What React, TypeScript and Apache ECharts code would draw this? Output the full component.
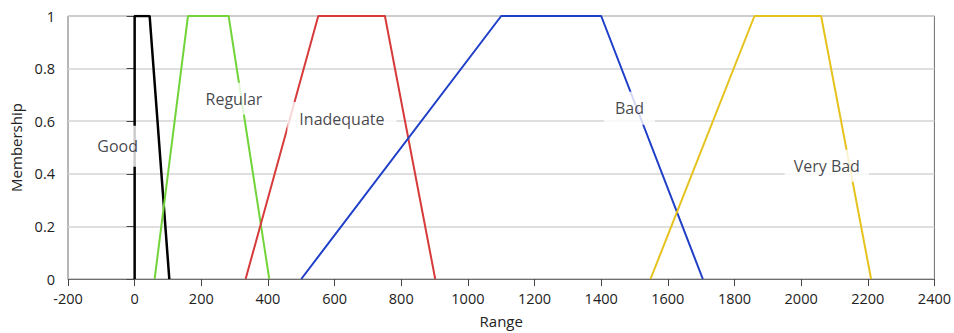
import React, { useEffect, useRef } from "react";
import * as echarts from "echarts";

// Membership functions: [x, membership]
const goodPts: [number, number][] = [[0, 0], [0, 1], [45, 1], [104, 0]];
const regularPts: [number, number][] = [[60, 0], [160, 1], [282, 1], [404, 0]];
const inadequatePts: [number, number][] = [[333, 0], [551, 1], [751, 1], [902, 0]];
const badPts: [number, number][] = [[500, 0], [1100, 1], [1400, 1], [1705, 0]];
const veryBadPts: [number, number][] = [[1548, 0], [1860, 1], [2060, 1], [2210, 0]];

const seriesNames = ["Good", "Regular", "Inadequate", "Bad", "Very Bad"];
const seriesColors = ["#000000", "#72d43a", "#d63a3a", "#1f3fc8", "#e6c21e"];
const seriesWidths = [2.5, 2, 2, 2, 2];

// Label anchor positions (data coords)
const labelTexts = ["Good", "Regular", "Inadequate", "Bad", "Very Bad"];
const labelX = [-51, 298, 622, 1485, 2077];
const labelY = [0.505, 0.685, 0.61, 0.649, 0.431];

const xMin = -200;
const xMax = 2400;
const xStep = 200;
const yMin = 0;
const yMax = 1;
const yStep = 0.2;

const FONT = "'Open Sans', 'Noto Sans', sans-serif";

export default function App() {
  const ref = useRef<HTMLDivElement>(null);
  useEffect(() => {
    document.body.style.margin = "0";
    if (!ref.current) return;
    const chart = echarts.init(ref.current, null, { renderer: "svg" });
    const allPts = [goodPts, regularPts, inadequatePts, badPts, veryBadPts];
    const lineSeries = allPts.map((pts, i) => ({
      type: "line",
      name: seriesNames[i],
      data: pts,
      symbol: "none",
      lineStyle: { color: seriesColors[i], width: seriesWidths[i] },
      z: 2,
    }));
    const paddings = [
      [9, 10, 12, 10],
      [6, 10, 6, 10],
      [7, 12, 6, 12],
      [6, 11, 7, 11],
      [6, 9, 6, 9],
    ];
    const labelSeries = {
      type: "scatter",
      symbolSize: 0,
      z: 10,
      silent: true,
      data: labelTexts.map((t, i) => ({
        value: [labelX[i], labelY[i]],
        label: {
          show: true,
          position: "inside",
          formatter: t,
          color: "#141420",
          fontFamily: FONT,
          fontSize: 16,
          lineHeight: 20,
          backgroundColor: "#ffffff",
          padding: paddings[i],
        },
      })),
    };
    chart.setOption({
      animation: false,
      backgroundColor: "#ffffff",
      textStyle: { fontFamily: FONT },
      grid: {
        left: 68,
        right: 16,
        top: 16,
        bottom: 52,
        show: true,
        borderColor: "#6e6e6e",
        borderWidth: 1,
        containLabel: false,
      },
      xAxis: {
        type: "value",
        min: xMin,
        max: xMax,
        interval: xStep,
        name: "Range",
        nameLocation: "middle",
        nameGap: 34,
        nameTextStyle: { color: "#222", fontSize: 15, fontFamily: FONT },
        axisLine: { show: true, lineStyle: { color: "#6e6e6e" } },
        axisTick: { show: true, length: 7, lineStyle: { color: "#444" } },
        axisLabel: {
          color: "#222",
          fontSize: 14.5,
          fontFamily: FONT,
          margin: 12,
          formatter: (v: number) => String(v),
        },
        splitLine: { show: false },
      },
      yAxis: {
        type: "value",
        min: yMin,
        max: yMax,
        interval: yStep,
        name: "Membership",
        nameLocation: "middle",
        nameGap: 40,
        nameTextStyle: { color: "#222", fontSize: 15, fontFamily: FONT },
        axisLine: { show: true, lineStyle: { color: "#6e6e6e" } },
        axisTick: { show: true, length: 8, lineStyle: { color: "#444" } },
        axisLabel: {
          color: "#222",
          fontSize: 14.5,
          fontFamily: FONT,
          margin: 13,
          formatter: (v: number) => String(Math.round(v * 10) / 10),
        },
        splitLine: { show: true, lineStyle: { color: "#d4d4d4", width: 1.5 } },
      },
      series: [...lineSeries, labelSeries],
    });
    return () => chart.dispose();
  }, []);
  return <div ref={ref} style={{ width: 954, height: 333 }} />;
}
